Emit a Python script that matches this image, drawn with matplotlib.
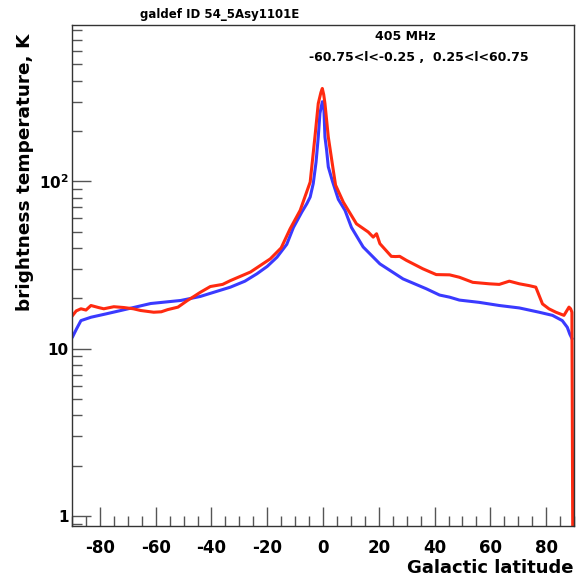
import matplotlib
matplotlib.use('Agg')
import matplotlib.pyplot as plt
from matplotlib.ticker import FixedLocator, MultipleLocator, NullFormatter

plt.rcParams['font.family'] = ['DejaVu Sans']
plt.rcParams['mathtext.default'] = 'regular'
plt.rcParams['axes.unicode_minus'] = False

# Blue profile (latitude, brightness temperature K)
blue_lat = [-89.75, -88.5, -86.8, -83.2, -78, -72.5, -61.8, -51, -44, -40,
            -33.2, -28, -23.7, -20, -16.5, -13, -10.6, -7.6, -5.8, -4.6,
            -3.5, -2.5, -1.7, -1.1, -0.25, 0.25, 0.7, 1.3, 1.9, 3.4,
            5.5, 7.9, 10.2, 14.4, 20.4, 28.7, 37, 41.8, 45.4, 48.9,
            56, 63.2, 70.4, 77.5, 82.3, 85.8, 87.6, 88.5, 89.25]
blue_T = [11.8, 13.0, 14.7, 15.4, 16.1, 16.9, 18.6, 19.4, 20.5, 21.5,
          23.3, 25.3, 28, 31, 35.2, 42, 53, 65.5, 73.5, 80.6,
          97, 130, 184, 255, 299, 290, 184, 153, 122, 100,
          78, 67, 53, 40.5, 32.1, 26.1, 22.8, 20.9, 20.3, 19.5,
          18.9, 18.1, 17.5, 16.5, 15.8, 14.7, 13.4, 12.2, 11.5]

# Red profile
red_lat = [-89.75, -88.5, -86.8, -85, -83.2, -80.5, -78.6, -75, -71.4, -68,
           -65.4, -60.7, -58, -55.7, -52, -48.6, -47.5, -44, -40.4, -36,
           -33.2, -26, -18.9, -15, -11.8, -8.2, -4.6, -2.9, -1.7, -0.75,
           -0.25, 0.25, 0.7, 1.9, 3.7, 4.5, 7.3, 12, 16.2, 18,
           19.2, 20.4, 24.5, 26, 27.5, 29.9, 35.8, 40.6, 45.4, 48.9,
           53.7, 59.6, 63.2, 66.8, 70.4, 73.9, 76.3, 78.7, 81, 83.5,
           86.4, 88.2, 88.8, 89.25, 89.75]
red_T = [15.8, 16.8, 17.3, 17.0, 18.1, 17.6, 17.3, 17.8, 17.6, 17.3,
         16.9, 16.5, 16.6, 17.1, 17.7, 19.4, 19.9, 21.7, 23.5, 24.2,
         25.5, 28.7, 34.4, 40, 52, 67, 99, 184, 292, 340,
         359, 330, 292, 184, 116, 95, 75, 55.7, 49.8, 46.4,
         48.6, 42.4, 35.6, 35.5, 35.6, 33.7, 30, 27.7, 27.6, 26.7,
         24.9, 24.4, 24.2, 25.3, 24.4, 23.8, 23.3, 18.5, 17.3, 16.5,
         15.8, 17.7, 17.3, 16.5, 0.1]

fig = plt.figure(figsize=(5.77, 5.84), dpi=100)
ax = fig.add_axes([0.1248, 0.0993, 0.8700, 0.8579])

ax.plot(blue_lat, blue_T, color='#3a3aff', lw=2.2)
ax.plot(red_lat, red_T, color='#ff2a10', lw=2.2)

ax.set_yscale('log')
ax.set_xlim(-90, 90)
ax.set_ylim(0.87, 860)

ax.xaxis.set_major_locator(MultipleLocator(20))
ax.xaxis.set_minor_locator(MultipleLocator(5))
ax.yaxis.set_major_locator(FixedLocator([1, 10, 100]))
ax.set_yticklabels(['1', '10', '10$^{2}$'])
ax.yaxis.set_minor_formatter(NullFormatter())

ax.tick_params(axis='both', which='both', direction='in', top=False, right=False,
               color='#555555')
ax.tick_params(axis='both', which='major', length=14, width=1)
ax.tick_params(axis='both', which='minor', length=7, width=1)
ax.tick_params(axis='x', which='major', pad=9, labelsize=12)
ax.tick_params(axis='y', which='major', pad=2.5, labelsize=11)
for lab in ax.get_xticklabels() + ax.get_yticklabels():
    lab.set_fontweight('bold')

for s in ax.spines.values():
    s.set_color('#333333')
    s.set_linewidth(1)

ax.set_ylabel('brightness temperature, K', fontsize=13.3, fontweight='bold', va='center')
ax.yaxis.set_label_coords(-0.093, 0.705)
ax.set_xlabel('Galactic latitude', fontsize=13, fontweight='bold', ha='right')
ax.xaxis.set_label_coords(1.0, -0.065)

fig.text(0.2426, 0.976, 'galdef ID 54_5Asy1101E', fontsize=8.5, fontweight='bold', va='center')
fig.text(0.702, 0.938, '405 MHz', fontsize=9, fontweight='bold', ha='center', va='center')
fig.text(0.917, 0.902, '-60.75<l<-0.25 ,  0.25<l<60.75', fontsize=9, fontweight='bold',
         ha='right', va='center')

fig.savefig('out.png', dpi=100)
